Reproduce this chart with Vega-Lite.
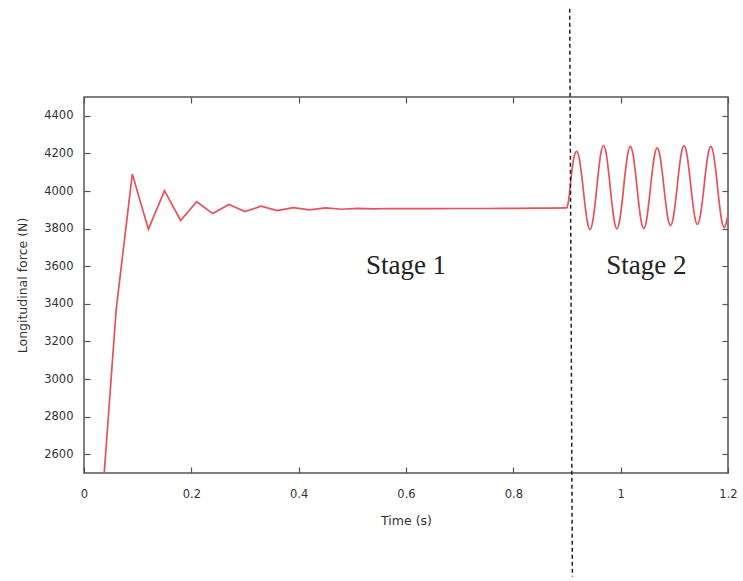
{
  "$schema": "https://vega.github.io/schema/vega-lite/v6.json",
  "width": 644,
  "height": 376,
  "autosize": "none",
  "padding": {"left": 84, "top": 97, "right": 15, "bottom": 108},
  "background": "white",
  "config": {
    "view": {"stroke": "#555555", "strokeWidth": 1.5},
    "axis": {
      "grid": false,
      "domain": false,
      "labelFont": "DejaVu Sans",
      "titleFont": "DejaVu Sans",
      "labelColor": "#333333",
      "titleColor": "#333333",
      "tickColor": "#555555",
      "labelFontSize": 11.5,
      "titleFontSize": 12.5,
      "titleFontWeight": "normal",
      "tickSize": -6,
      "tickWidth": 1.2,
      "labelFlush": false
    }
  },
  "datasets": {
    "s1": [
      {"t": 0.03, "v": 2200}, {"t": 0.06, "v": 3370}, {"t": 0.09, "v": 4090}, {"t": 0.12, "v": 3797},
      {"t": 0.15, "v": 4002}, {"t": 0.18, "v": 3843}, {"t": 0.21, "v": 3943}, {"t": 0.24, "v": 3880},
      {"t": 0.27, "v": 3928}, {"t": 0.30, "v": 3891}, {"t": 0.33, "v": 3919}, {"t": 0.36, "v": 3896},
      {"t": 0.39, "v": 3912}, {"t": 0.42, "v": 3900}, {"t": 0.45, "v": 3910}, {"t": 0.48, "v": 3903},
      {"t": 0.51, "v": 3908}, {"t": 0.54, "v": 3905}, {"t": 0.57, "v": 3907}, {"t": 0.60, "v": 3906},
      {"t": 0.63, "v": 3907}, {"t": 0.66, "v": 3906}, {"t": 0.69, "v": 3907}, {"t": 0.72, "v": 3907},
      {"t": 0.75, "v": 3907}, {"t": 0.78, "v": 3908}, {"t": 0.81, "v": 3908}, {"t": 0.84, "v": 3909},
      {"t": 0.87, "v": 3909}, {"t": 0.90, "v": 3910}
    ],
    "s2": [
      {"t": 0.900, "v": 3910}, {"t": 0.903, "v": 3950}, {"t": 0.908, "v": 4080}, {"t": 0.913, "v": 4180},
      {"t": 0.918, "v": 4211}, {"t": 0.923, "v": 4171}, {"t": 0.928, "v": 4067}, {"t": 0.933, "v": 3939},
      {"t": 0.938, "v": 3835}, {"t": 0.943, "v": 3795}, {"t": 0.948, "v": 3838}, {"t": 0.953, "v": 3949},
      {"t": 0.958, "v": 4088}, {"t": 0.963, "v": 4199}, {"t": 0.968, "v": 4242}, {"t": 0.973, "v": 4200},
      {"t": 0.978, "v": 4089}, {"t": 0.983, "v": 3952}, {"t": 0.988, "v": 3841}, {"t": 0.993, "v": 3799},
      {"t": 0.998, "v": 3841}, {"t": 1.003, "v": 3950}, {"t": 1.008, "v": 4086}, {"t": 1.013, "v": 4195},
      {"t": 1.018, "v": 4237}, {"t": 1.023, "v": 4195}, {"t": 1.028, "v": 4086}, {"t": 1.033, "v": 3951},
      {"t": 1.038, "v": 3842}, {"t": 1.043, "v": 3800}, {"t": 1.048, "v": 3841}, {"t": 1.053, "v": 3951},
      {"t": 1.058, "v": 4081}, {"t": 1.063, "v": 4188}, {"t": 1.068, "v": 4229}, {"t": 1.073, "v": 4190},
      {"t": 1.078, "v": 4086}, {"t": 1.083, "v": 3959}, {"t": 1.088, "v": 3855}, {"t": 1.093, "v": 3816},
      {"t": 1.098, "v": 3857}, {"t": 1.103, "v": 3963}, {"t": 1.108, "v": 4095}, {"t": 1.113, "v": 4201},
      {"t": 1.118, "v": 4242}, {"t": 1.123, "v": 4202}, {"t": 1.128, "v": 4097}, {"t": 1.133, "v": 3967},
      {"t": 1.138, "v": 3862}, {"t": 1.143, "v": 3822}, {"t": 1.148, "v": 3862}, {"t": 1.153, "v": 3964},
      {"t": 1.158, "v": 4094}, {"t": 1.163, "v": 4197}, {"t": 1.168, "v": 4237}, {"t": 1.173, "v": 4196},
      {"t": 1.178, "v": 4088}, {"t": 1.183, "v": 3954}, {"t": 1.188, "v": 3846}, {"t": 1.193, "v": 3805},
      {"t": 1.198, "v": 3845}, {"t": 1.200, "v": 3870}
    ],
    "divider": [{"t1": 0.905, "v1": 4970, "t2": 0.910, "v2": 1950}],
    "labels": [
      {"t": 0.600, "v": 3557, "text": "Stage 1"},
      {"t": 1.048, "v": 3557, "text": "Stage 2"}
    ]
  },
  "resolve": {"axis": {"x": "independent", "y": "independent"}},
  "layer": [
    {
      "data": {"name": "s1"},
      "mark": {"type": "line", "color": "#e8505c", "strokeWidth": 1.7, "clip": true},
      "encoding": {
        "x": {
          "field": "t", "type": "quantitative",
          "scale": {"domain": [0, 1.2], "nice": false},
          "axis": {"values": [0, 0.2, 0.4, 0.6, 0.8, 1, 1.2], "format": "~g", "title": "Time (s)", "labelPadding": 21, "titlePadding": 15}
        },
        "y": {
          "field": "v", "type": "quantitative",
          "scale": {"domain": [2500, 4500], "nice": false, "zero": false},
          "axis": {"values": [2600, 2800, 3000, 3200, 3400, 3600, 3800, 4000, 4200, 4400], "format": "d", "title": "Longitudinal force (N)", "labelPadding": 17, "titlePadding": 14}
        }
      }
    },
    {
      "data": {"name": "s2"},
      "mark": {"type": "line", "color": "#e8505c", "strokeWidth": 1.7, "clip": true, "interpolate": "monotone"},
      "encoding": {
        "x": {
          "field": "t", "type": "quantitative",
          "axis": {"orient": "top", "values": [0, 0.2, 0.4, 0.6, 0.8, 1, 1.2], "labels": false, "title": null}
        },
        "y": {
          "field": "v", "type": "quantitative",
          "axis": {"orient": "right", "values": [2600, 2800, 3000, 3200, 3400, 3600, 3800, 4000, 4200, 4400], "labels": false, "title": null}
        }
      }
    },
    {
      "data": {"name": "divider"},
      "mark": {"type": "rule", "color": "#222222", "strokeWidth": 1.5, "strokeDash": [4, 3], "clip": false},
      "encoding": {
        "x": {"field": "t1", "type": "quantitative", "axis": null},
        "x2": {"field": "t2"},
        "y": {"field": "v1", "type": "quantitative", "axis": null},
        "y2": {"field": "v2"}
      }
    },
    {
      "data": {"name": "labels"},
      "mark": {"type": "text", "font": "Liberation Serif", "fontSize": 27, "color": "#222222", "align": "center", "baseline": "alphabetic"},
      "encoding": {
        "x": {"field": "t", "type": "quantitative", "axis": null},
        "y": {"field": "v", "type": "quantitative", "axis": null},
        "text": {"field": "text"}
      }
    }
  ]
}
